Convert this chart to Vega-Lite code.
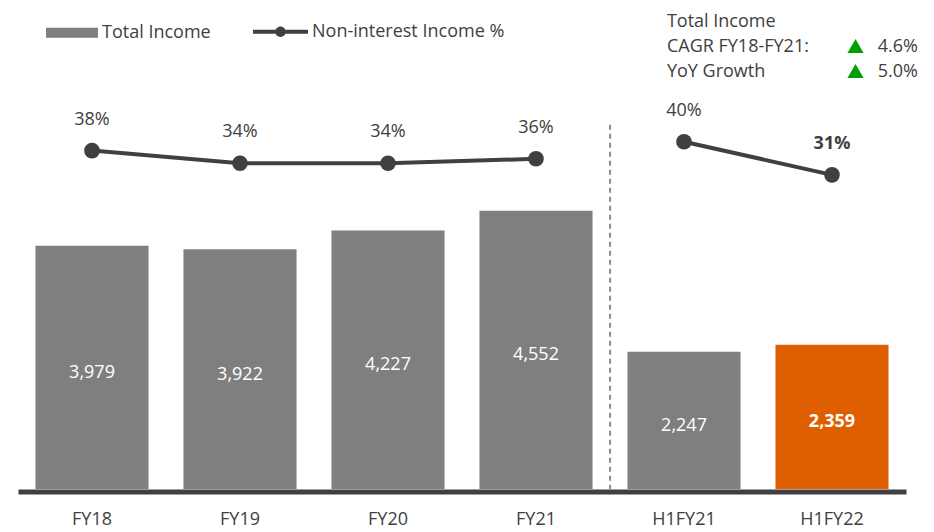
{
  "$schema": "https://vega.github.io/schema/vega-lite/v6.json",
  "width": 888,
  "height": 489,
  "autosize": {"type": "none"},
  "padding": {"left": 18, "top": 0, "right": 28, "bottom": 43},
  "config": {
    "view": {"stroke": null},
    "font": "Open Sans",
    "text": {"font": "Open Sans", "fontSize": 18},
    "legend": {"padding": 0, "labelLimit": 400}
  },
  "data": {
    "values": [
      {"period": "FY18", "income": 3979, "pct": 38.0, "pctLabel": "38%", "grp": "FY"},
      {"period": "FY19", "income": 3922, "pct": 34.0, "pctLabel": "34%", "grp": "FY"},
      {"period": "FY20", "income": 4227, "pct": 34.0, "pctLabel": "34%", "grp": "FY"},
      {"period": "FY21", "income": 4552, "pct": 35.4, "pctLabel": "36%", "grp": "FY"},
      {"period": "H1FY21", "income": 2247, "pct": 40.8, "pctLabel": "40%", "grp": "H1"},
      {"period": "H1FY22", "income": 2359, "pct": 30.3, "pctLabel": "31%", "grp": "H1"}
    ]
  },
  "encoding": {
    "x": {
      "field": "period",
      "type": "nominal",
      "sort": null,
      "scale": {"paddingInner": 0.236, "paddingOuter": 0.118},
      "axis": {
        "title": null,
        "labelAngle": 0,
        "ticks": false,
        "domainColor": "#404040",
        "domainWidth": 5,
        "offset": 2.5,
        "labelFont": "Open Sans",
        "labelFontSize": 18,
        "labelColor": "#404040",
        "labelPadding": 19
      }
    }
  },
  "layer": [
    {
      "mark": {"type": "bar"},
      "encoding": {
        "y": {"field": "income", "type": "quantitative", "scale": {"domain": [0, 8000]}, "axis": null},
        "fill": {
          "condition": {"test": "datum.period === 'H1FY22'", "value": "#DF5F00"},
          "datum": "Total Income",
          "scale": {"range": ["#7F7F7F"]},
          "legend": {
            "title": null,
            "orient": "none",
            "legendX": 28,
            "legendY": 6.7,
            "symbolType": "M-1,-0.19H1V0.19H-1Z",
            "symbolSize": 2704,
            "symbolStrokeWidth": 0,
            "labelFont": "Open Sans",
            "labelFontSize": 18,
            "labelColor": "#404040",
            "labelOffset": 4,
            "labelLimit": 400
          }
        }
      }
    },
    {
      "transform": [{"filter": "datum.period !== 'H1FY22'"}],
      "mark": {"type": "text", "color": "#FFFFFF", "baseline": "middle", "dy": 5.5},
      "encoding": {
        "y": {"field": "income", "type": "quantitative", "scale": {"domain": [0, 16000]}, "axis": null},
        "text": {"field": "income", "type": "quantitative", "format": ","}
      }
    },
    {
      "transform": [{"filter": "datum.period === 'H1FY22'"}],
      "mark": {"type": "text", "color": "#FFFFFF", "baseline": "middle", "dy": 5.5, "fontWeight": "bold"},
      "encoding": {
        "y": {"field": "income", "type": "quantitative", "scale": {"domain": [0, 16000]}, "axis": null},
        "text": {"field": "income", "type": "quantitative", "format": ","}
      }
    },
    {
      "mark": {"type": "line", "strokeWidth": 4},
      "encoding": {
        "y": {"field": "pct", "type": "quantitative", "scale": {"domain": [-69.4, 85.8]}, "axis": null},
        "detail": {"field": "grp"},
        "stroke": {
          "datum": "Non-interest Income %",
          "scale": {"range": ["#404040"]},
          "legend": {
            "title": null,
            "orient": "none",
            "legendX": 235,
            "legendY": 4.2,
            "symbolType": "M-1,-0.072H1V0.072H-1Z M0.19,0A0.19,0.19 0 1 1 -0.19,0A0.19,0.19 0 1 1 0.19,0Z",
            "symbolSize": 3025,
            "symbolStrokeWidth": 0,
            "symbolFillColor": "#404040",
            "labelFont": "Open Sans",
            "labelFontSize": 18,
            "labelColor": "#404040",
            "labelOffset": 4,
            "labelLimit": 400,
            "encode": {"symbols": {"update": {"fill": {"value": "#404040"}, "strokeWidth": {"value": 0}}}}
          }
        }
      }
    },
    {
      "mark": {"type": "point", "filled": true, "size": 245, "color": "#404040", "opacity": 1},
      "encoding": {
        "y": {"field": "pct", "type": "quantitative", "scale": {"domain": [-69.4, 85.8]}, "axis": null}
      }
    },
    {
      "transform": [{"filter": "datum.period !== 'H1FY22'"}],
      "mark": {"type": "text", "color": "#404040", "baseline": "middle", "dy": -31},
      "encoding": {
        "y": {"field": "pct", "type": "quantitative", "scale": {"domain": [-69.4, 85.8]}, "axis": null},
        "text": {"field": "pctLabel"}
      }
    },
    {
      "transform": [{"filter": "datum.period === 'H1FY22'"}],
      "mark": {"type": "text", "color": "#404040", "baseline": "middle", "dy": -31, "fontWeight": "bold"},
      "encoding": {
        "y": {"field": "pct", "type": "quantitative", "scale": {"domain": [-69.4, 85.8]}, "axis": null},
        "text": {"field": "pctLabel"}
      }
    },
    {
      "data": {"values": [{}]},
      "mark": {"type": "rule", "strokeDash": [5, 4], "color": "#8C8C8C", "strokeWidth": 2},
      "encoding": {
        "x": {"datum": "FY21", "type": "nominal", "bandPosition": 1.155},
        "y": {"datum": 5960, "type": "quantitative", "scale": {"domain": [0, 8000]}, "axis": null},
        "y2": {"datum": 0}
      }
    },
    {
      "data": {"values": [{}]},
      "mark": {"type": "text", "text": "Total Income", "align": "left", "baseline": "middle", "color": "#404040"},
      "encoding": {
        "x": {"datum": "H1FY21", "type": "nominal", "bandPosition": 0.349},
        "y": {"datum": 7640, "type": "quantitative", "scale": {"domain": [0, 8000]}, "axis": null}
      }
    },
    {
      "data": {"values": [{}]},
      "mark": {"type": "text", "text": "CAGR FY18-FY21:", "align": "left", "baseline": "middle", "color": "#404040"},
      "encoding": {
        "x": {"datum": "H1FY21", "type": "nominal", "bandPosition": 0.349},
        "y": {"datum": 7236, "type": "quantitative", "scale": {"domain": [0, 8000]}, "axis": null}
      }
    },
    {
      "data": {"values": [{}]},
      "mark": {"type": "text", "text": "YoY Growth", "align": "left", "baseline": "middle", "color": "#404040"},
      "encoding": {
        "x": {"datum": "H1FY21", "type": "nominal", "bandPosition": 0.349},
        "y": {"datum": 6822, "type": "quantitative", "scale": {"domain": [0, 8000]}, "axis": null}
      }
    },
    {
      "data": {"values": [{}]},
      "mark": {"type": "text", "text": "4.6%", "align": "right", "baseline": "middle", "color": "#404040"},
      "encoding": {
        "x": {"datum": "H1FY22", "type": "nominal", "bandPosition": 1.26},
        "y": {"datum": 7236, "type": "quantitative", "scale": {"domain": [0, 8000]}, "axis": null}
      }
    },
    {
      "data": {"values": [{}]},
      "mark": {"type": "text", "text": "5.0%", "align": "right", "baseline": "middle", "color": "#404040"},
      "encoding": {
        "x": {"datum": "H1FY22", "type": "nominal", "bandPosition": 1.26},
        "y": {"datum": 6822, "type": "quantitative", "scale": {"domain": [0, 8000]}, "axis": null}
      }
    },
    {
      "data": {"values": [{}]},
      "mark": {"type": "point", "shape": "triangle-up", "filled": true, "size": 260, "color": "#00A000", "opacity": 1},
      "encoding": {
        "x": {"datum": "H1FY22", "type": "nominal", "bandPosition": 0.708},
        "y": {"datum": 7247, "type": "quantitative", "scale": {"domain": [0, 8000]}, "axis": null}
      }
    },
    {
      "data": {"values": [{}]},
      "mark": {"type": "point", "shape": "triangle-up", "filled": true, "size": 260, "color": "#00A000", "opacity": 1},
      "encoding": {
        "x": {"datum": "H1FY22", "type": "nominal", "bandPosition": 0.708},
        "y": {"datum": 6838, "type": "quantitative", "scale": {"domain": [0, 8000]}, "axis": null}
      }
    }
  ],
  "resolve": {"scale": {"y": "independent"}}
}
